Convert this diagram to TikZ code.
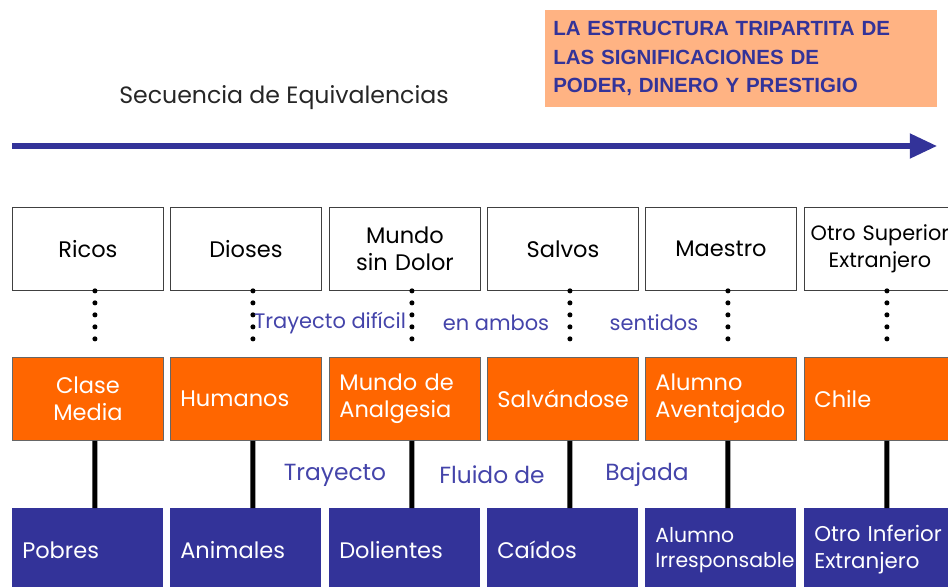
\documentclass[tikz,border=0pt]{standalone}
\usepackage{fontspec}
\setmainfont{Poppins}
\newfontfamily\headfont{Liberation Sans}
\usetikzlibrary{positioning, calc, arrows.meta}
\definecolor{xorange}{HTML}{FF6600}
\definecolor{xblue}{HTML}{333399}
\definecolor{xpeach}{HTML}{FFB383}
\definecolor{xlabel}{HTML}{4444AA}
\tikzset{
	cell/.style={anchor=north west, minimum width=3.775cm, minimum height=2.075cm, inner xsep=0.25cm, inner ysep=0pt, font=\fontsize{16}{19}\selectfont},
	upper/.style={cell, draw=black!75, line width=0.6pt, fill=white, align=center, inner xsep=0pt, text width=3.775cm},
	middle/.style={cell, draw=black!60, line width=0.6pt, fill=xorange, text=white, align=left, text width=3.275cm},
	lower/.style={cell, fill=xblue, text=white, align=left, text width=3.275cm},
	dots/.style={line width=3.6pt, line cap=round, dash pattern=on 0pt off 0.3cm},
	link/.style={line width=3.6pt},
	bigarrow/.style={line width=3.6pt, xblue, -{Triangle[length=0.68cm, width=0.6cm]}},
	path/.style={text=xlabel},
}

\begin{document}
\begin{tikzpicture}[x=0.025cm, y=-0.025cm]
	\useasboundingbox (0,0) rectangle (948,586);
	\clip (0,0) rectangle (948,586);

% Heading
	\node[anchor=north west, fill=xpeach, text=xblue, minimum width=9.8cm, minimum height=2.425cm, inner xsep=0.2cm, text width=9.4cm, align=left, font=\headfont\bfseries\fontsize{14.6}{20.3}\selectfont] (head) at (545,10) {LA ESTRUCTURA TRIPARTITA DE\\LAS SIGNIFICACIONES DE\\PODER, DINERO Y PRESTIGIO};
	\node[text=black!85, font=\fontsize{16.8}{19}\selectfont] (seq) at (284,98) {Secuencia de Equivalencias};
	\coordinate (start) at (12,146);
	\coordinate (end) at (937,146);
	\draw[bigarrow] (start) -- (end);

% Upper row
	\node[upper] (up1) at (12,207) {Ricos};
	\node[upper] (up2) at (170,207) {Dioses};
	\node[upper] (up3) at (329,207) {Mundo\\sin Dolor};
	\node[upper] (up4) at (487,207) {Salvos};
	\node[upper] (up5) at (645,207) {Maestro};
	\node[upper, font=\fontsize{14.8}{19}\selectfont] (up6) at (804,207) {Otro Superior\\Extranjero};

% Middle row
	\node[middle, align=center] (mid1) at (12,357) {Clase\\Media};
	\node[middle] (mid2) at (170,357) {Humanos};
	\node[middle] (mid3) at (329,357) {Mundo de\\Analgesia};
	\node[middle] (mid4) at (487,357) {Salvándose};
	\node[middle] (mid5) at (645,357) {Alumno\\Aventajado};
	\node[middle] (mid6) at (804,357) {Chile};

% Lower row
	\node[lower] (low1) at (12,508) {Pobres};
	\node[lower] (low2) at (170,508) {Animales};
	\node[lower] (low3) at (329,508) {Dolientes};
	\node[lower] (low4) at (487,508) {Caídos};
	\node[lower, font=\fontsize{14.5}{18}\selectfont] (low5) at (645,508) {Alumno\\Irresponsable};
	\node[lower, font=\fontsize{15.2}{19}\selectfont] (low6) at (804,508) {\mbox{Otro Inferior}\\Extranjero};

% Dotted and solid links
	\draw[dots] ($(up1.south)+(7,0)$) -- ($(mid1.north)+(7,-7)$);
	\draw[dots] ($(up2.south)+(7,0)$) -- ($(mid2.north)+(7,-7)$);
	\draw[dots] ($(up3.south)+(7,0)$) -- ($(mid3.north)+(7,-7)$);
	\draw[dots] ($(up4.south)+(7,0)$) -- ($(mid4.north)+(7,-7)$);
	\draw[dots] ($(up5.south)+(7,0)$) -- ($(mid5.north)+(7,-7)$);
	\draw[dots] ($(up6.south)+(7,0)$) -- ($(mid6.north)+(7,-7)$);

	\draw[link] ($(mid1.south)+(7,0)$) -- ($(low1.north)+(7,0)$);
	\draw[link] ($(mid2.south)+(7,0)$) -- ($(low2.north)+(7,0)$);
	\draw[link] ($(mid3.south)+(7,0)$) -- ($(low3.north)+(7,0)$);
	\draw[link] ($(mid4.south)+(7,0)$) -- ($(low4.north)+(7,0)$);
	\draw[link] ($(mid5.south)+(7,0)$) -- ($(low5.north)+(7,0)$);
	\draw[link] ($(mid6.south)+(7,0)$) -- ($(low6.north)+(7,0)$);

% Labels between the rows
	\node[path, font=\fontsize{14.9}{17}\selectfont] (hard) at (330,323) {Trayecto difícil};
	\node[path, font=\fontsize{14.9}{17}\selectfont] (both) at (496,323) {en ambos};
	\node[path, font=\fontsize{14.9}{17}\selectfont] (ways) at (654,323) {sentidos};
	\node[path, font=\fontsize{16.6}{19}\selectfont] (way) at (335,475) {Trayecto};
	\node[path, font=\fontsize{16.6}{19}\selectfont] (fluid) at (492,475) {Fluido de};
	\node[path, font=\fontsize{16.6}{19}\selectfont] (down) at (647,475) {Bajada};
\end{tikzpicture}
\end{document}
